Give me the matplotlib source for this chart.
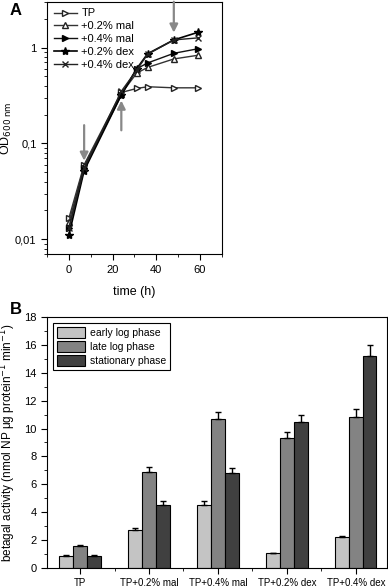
import matplotlib
matplotlib.use("Agg")
import matplotlib.pyplot as plt
import matplotlib.ticker as mticker
import numpy as np

plt.rcParams['font.family'] = ['Liberation Sans', 'DejaVu Sans']
plt.rcParams['font.size'] = 8

# panel A: growth curves
time_h = [0, 7, 24, 31, 36, 48, 59]
od_tp = [0.0165, 0.060, 0.34, 0.374, 0.39, 0.38, 0.38]
od_mal02 = [0.015, 0.058, 0.33, 0.54, 0.62, 0.76, 0.83]
od_mal04 = [0.013, 0.055, 0.32, 0.60, 0.69, 0.87, 0.97]
od_dex02 = [0.011, 0.052, 0.32, 0.60, 0.86, 1.20, 1.44]
od_dex04 = [0.013, 0.055, 0.35, 0.58, 0.85, 1.20, 1.26]

# sampling arrows (time, start, end)
arrows = [(7, 0.155, 0.066), (24, 0.137, 0.28), (48, 3.0, 1.43)]

# panel B: betagal activity
groups = ["TP", "TP+0.2% mal", "TP+0.4% mal", "TP+0.2% dex", "TP+0.4% dex"]
early = [0.88, 2.73, 4.55, 1.05, 2.2]
late = [1.55, 6.9, 10.7, 9.3, 10.85]
stationary = [0.88, 4.55, 6.84, 10.5, 15.2]
early_err = [0.05, 0.12, 0.25, 0.05, 0.1]
late_err = [0.07, 0.35, 0.5, 0.48, 0.52]
stationary_err = [0.05, 0.26, 0.35, 0.5, 0.8]

fig = plt.figure(figsize=(3.88, 5.87), dpi=100)

# ---- panel A ----
ax1 = fig.add_axes([0.121, 0.567, 0.451, 0.43])
ms = 5
ax1.plot(time_h, od_tp, marker='>', mfc='white', mec='#222222', color='#333333',
         lw=1, ms=ms, label='TP')
ax1.plot(time_h, od_mal02, marker='^', mfc='white', mec='#222222', color='#333333',
         lw=1, ms=ms, label='+0.2% mal')
ax1.plot(time_h, od_mal04, marker='>', mfc='black', mec='black', color='#111111',
         lw=1, ms=ms, label='+0.4% mal')
ax1.plot(time_h, od_dex02, marker='*', mfc='black', mec='black', color='black',
         lw=1.2, ms=ms + 1, label='+0.2% dex')
ax1.plot(time_h, od_dex04, marker='x', color='#222222', lw=1, ms=ms,
         label='+0.4% dex')

for t, y0, y1 in arrows:
    ax1.annotate('', xy=(t, y1), xytext=(t, y0),
                 arrowprops=dict(arrowstyle='-|>', color='#888888', lw=1.6,
                                 mutation_scale=12, shrinkA=0, shrinkB=0))

ax1.set_yscale('log')
ax1.set_xlim(-10, 70)
ax1.set_ylim(0.007, 3.0)
ax1.set_xticks([0, 20, 40, 60])
ax1.xaxis.set_minor_locator(mticker.MultipleLocator(10))
ax1.set_yticks([0.01, 0.1, 1])
ax1.yaxis.set_major_formatter(mticker.FixedFormatter(['0,01', '0,1', '1']))
ax1.yaxis.set_minor_formatter(mticker.NullFormatter())
ax1.tick_params(which='major', length=4, direction='out')
ax1.tick_params(which='minor', length=2, direction='out')
ax1.set_xlabel('time (h)', fontsize=9, labelpad=8)
ax1.set_ylabel('OD$_{600\\ \\mathrm{nm}}$', fontsize=9)
ax1.yaxis.set_label_coords(-0.19, 0.5)
ax1.legend(loc='upper left', frameon=False, fontsize=8, handlelength=2.1,
           borderaxespad=0.2, labelspacing=0.25, handletextpad=0.4)
fig.text(0.025, 0.975, 'A', fontsize=12, fontweight='bold')

# ---- panel B ----
ax2 = fig.add_axes([0.121, 0.0324, 0.876, 0.4276])
x = np.arange(len(groups))
w = 0.2
err_kw = dict(ecolor='black', capsize=2.5, elinewidth=1, capthick=1)
ax2.bar(x - w, early, w, yerr=[np.zeros(len(x)), early_err], color='#c4c4c4',
        edgecolor='black', lw=0.8, error_kw=err_kw, label='early log phase')
ax2.bar(x, late, w, yerr=[np.zeros(len(x)), late_err], color='#838383',
        edgecolor='black', lw=0.8, error_kw=err_kw, label='late log phase')
ax2.bar(x + w, stationary, w, yerr=[np.zeros(len(x)), stationary_err],
        color='#404040', edgecolor='black', lw=0.8, error_kw=err_kw,
        label='stationary phase')

ax2.set_xlim(-0.48, 4.45)
ax2.set_ylim(0, 18)
ax2.set_xticks(x)
ax2.set_xticklabels(groups, fontsize=7)
ax2.set_xticks(x[:-1] + 0.5, minor=True)
ax2.yaxis.set_major_locator(mticker.MultipleLocator(2))
ax2.yaxis.set_minor_locator(mticker.MultipleLocator(1))
ax2.tick_params(which='major', length=4, direction='out')
ax2.tick_params(which='minor', length=2, direction='out')
ax2.set_ylabel('betagal activity (nmol NP \u03bcg protein$^{-1}$ min$^{-1}$)',
               fontsize=8.5)
leg = ax2.legend(loc='upper left', fontsize=7.5, fancybox=False, framealpha=1,
                 edgecolor='black', handlelength=2.7, handleheight=1.2,
                 borderaxespad=0.6, labelspacing=0.3, handletextpad=0.4)
leg.get_frame().set_linewidth(0.8)
fig.text(0.025, 0.465, 'B', fontsize=12, fontweight='bold')

fig.savefig('out.png', dpi=100)
